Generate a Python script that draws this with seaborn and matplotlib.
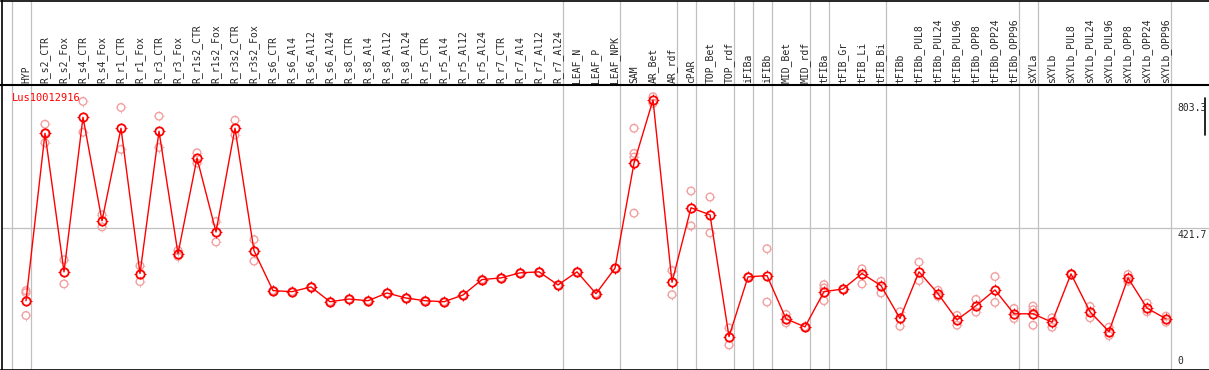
import numpy as np
import pandas as pd
import seaborn as sns
import matplotlib.pyplot as plt
from matplotlib.path import Path
from matplotlib.transforms import blended_transform_factory, offset_copy

sns.set_style("white")
plt.rcParams['font.family'] = ['DejaVu Sans Mono']

gene = "Lus10012916"

samples = [
    "HYP", "R_s2_CTR", "R_s2_Fox", "R_s4_CTR", "R_s4_Fox", "R_r1_CTR", "R_r1_Fox",
    "R_r3_CTR", "R_r3_Fox", "R_r1s2_CTR", "R_r1s2_Fox", "R_r3s2_CTR", "R_r3s2_Fox",
    "R_s6_CTR", "R_s6_Al4", "R_s6_Al12", "R_s6_Al24", "R_s8_CTR", "R_s8_Al4",
    "R_s8_Al12", "R_s8_Al24", "R_r5_CTR", "R_r5_Al4", "R_r5_Al12", "R_r5_Al24",
    "R_r7_CTR", "R_r7_Al4", "R_r7_Al12", "R_r7_Al24", "LEAF_N", "LEAF_P", "LEAF_NPK",
    "SAM", "AR_Bet", "AR_rdf", "cPAR", "TOP_Bet", "TOP_rdf", "iFIBa", "iFIBb",
    "MID_Bet", "MID_rdf", "tFIBa", "tFIB_Gr", "tFIB_Li", "tFIB_Bi", "tFIBb",
    "tFIBb_PUL8", "tFIBb_PUL24", "tFIBb_PUL96", "tFIBb_OPP8", "tFIBb_OPP24", "tFIBb_OPP96",
    "sXYLa", "sXYLb", "sXYLb_PUL8", "sXYLb_PUL24", "sXYLb_PUL96", "sXYLb_OPP8",
    "sXYLb_OPP24", "sXYLb_OPP96",
]

means = [
    205, 704, 291, 752, 443, 719, 286, 710, 345, 630, 410, 719, 354,
    235, 232, 246, 202, 210, 205, 228, 213, 205, 202, 222, 268,
    273, 288, 291, 252, 291, 226, 302,
    615, 803.3, 260, 482, 461, 98, 276, 280,
    151, 127, 232, 240, 286, 250, 152,
    291, 226, 148, 190, 237, 166,
    166, 141, 285, 172, 113, 273, 183, 151,
]

replicates = [
    [235, 229, 161], [731, 676, 705], [327, 255], [799, 707], [461, 425], [781, 656],
    [309, 262], [755, 662], [355, 337], [646, 615], [441, 380], [743, 699], [387, 323],
    [235, 235], [232, 232], [246, 246], [202, 202], [210, 210], [205, 205], [228, 228],
    [213, 213], [205, 205], [202, 202], [222, 222], [268, 268],
    [273, 273], [288, 288], [291, 291], [252, 252], [291, 291], [226, 226], [302, 302],
    [719, 644, 633, 466], [813, 793], [295, 223], [532, 428], [514, 407], [124, 73],
    [276, 276], [360, 201],
    [164, 139], [127, 127], [253, 243, 205], [240, 240], [300, 255], [263, 228], [172, 129],
    [320, 265], [236, 218], [161, 132], [209, 171], [277, 200], [182, 152],
    [189, 178, 132], [154, 126], [285, 285], [188, 154], [126, 101], [283, 263],
    [198, 172], [159, 141],
]

# index of the last sample in each group (group separators)
group_ends = [-1, 0, 28, 31, 34, 35, 37, 38, 39, 41, 42, 45, 52, 53, 60]
ref_value = 421.7

x = np.arange(len(samples))
rep_df = pd.DataFrame(
    [(i, v) for i, vals in enumerate(replicates) for v in vals],
    columns=["idx", "value"],
)
mean_df = pd.DataFrame({"idx": x, "value": means})

W, H = 1209, 370
fig = plt.figure(figsize=(W / 100, H / 100), dpi=100)

left_px, top_px, head_px, bot_px = 1.5, 0.5, 85.3, 369.5
ax = fig.add_axes([left_px / W, (H - bot_px) / H, (W - left_px) / W, (bot_px - head_px) / H])
axh = fig.add_axes([left_px / W, (H - head_px) / H, (W - left_px) / W, (head_px - top_px) / H])

xlim = ((left_px - 26) / 19, (W - 26) / 19)
grey = "#c0c0c0"

for a in (ax, axh):
    a.set_xlim(*xlim)
    a.set_xticks([])
    a.set_yticks([])
    a.spines["right"].set_visible(False)
    for side in ("left", "top", "bottom"):
        a.spines[side].set_color("black")
        a.spines[side].set_linewidth(1.2)
    for g in group_ends:
        a.axvline(g + 0.25, color=grey, lw=0.9, zorder=0)

axh.spines["bottom"].set_linewidth(1.5)
ax.spines["top"].set_visible(False)

ax.set_ylim(0, 847)
axh.set_ylim(0, 1)
ax.axhline(ref_value, color=grey, lw=0.9, zorder=0)

# small ticks around the circle markers
r0 = 0.7
tick_path = Path(
    [(0, r0), (0, 1), (0, -r0), (0, -1), (r0, 0), (1, 0), (-r0, 0), (-1, 0)],
    [Path.MOVETO, Path.LINETO] * 4,
)

sns.scatterplot(data=rep_df, x="idx", y="value", ax=ax, marker="o", s=30,
                facecolors="none", edgecolors="#f2a0a0", linewidth=1.0, zorder=2,
                legend=False)
sns.scatterplot(data=rep_df, x="idx", y="value", ax=ax, marker=tick_path, s=55,
                facecolors="none", edgecolors="#f2a0a0", linewidth=0.6, zorder=2,
                legend=False)
sns.lineplot(data=mean_df, x="idx", y="value", ax=ax, color="red", lw=1.0,
             marker="o", markersize=6, markerfacecolor="none",
             markeredgecolor="red", markeredgewidth=1.3, zorder=3)
sns.scatterplot(data=mean_df, x="idx", y="value", ax=ax, marker=tick_path, s=65,
                facecolors="none", edgecolors="red", linewidth=0.7, zorder=3,
                legend=False)
ax.set_xlabel("")
ax.set_ylabel("")
ax.set_xlim(*xlim)
ax.set_ylim(0, 847)

tr = blended_transform_factory(axh.transData, axh.transAxes)
for i, name in enumerate(samples):
    axh.text(i, 0.03, name, rotation=90, ha="center", va="bottom",
             fontsize=7, transform=tr)

ax.text(10 / (W - left_px), 0.955, gene, color="red", fontsize=7.5,
        ha="left", va="center", transform=ax.transAxes)

trr = blended_transform_factory(ax.transAxes, ax.transData)
xr = (1177 - left_px) / (W - left_px)
ax.text(xr, max(means), f"{max(means):.1f}",
        transform=offset_copy(trr, fig=fig, y=-3, units="dots"),
        ha="left", va="top", fontsize=7, clip_on=False)
ax.text(xr, ref_value, f"{ref_value:.1f}",
        transform=offset_copy(trr, fig=fig, y=-2, units="dots"),
        ha="left", va="top", fontsize=7)
ax.text(xr, 0, "0", transform=offset_copy(trr, fig=fig, y=4, units="dots"),
        ha="left", va="bottom", fontsize=7)

# short dark bar at the right edge next to the maximum label
xb = (1204.5 - left_px) / (W - left_px)
ax.plot([xb, xb], [(bot_px - 98) / (bot_px - head_px), (bot_px - 135) / (bot_px - head_px)],
        color="black", lw=1.2, transform=ax.transAxes, clip_on=False)

fig.savefig("out.png", dpi=100)
